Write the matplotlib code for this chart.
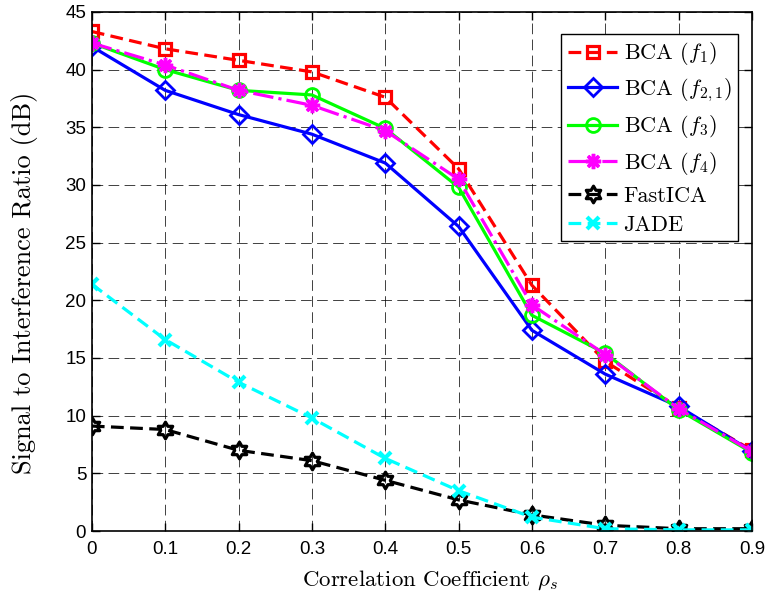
import numpy as np
import matplotlib
matplotlib.use("Agg")
import matplotlib.pyplot as plt
from matplotlib.path import Path

plt.rcParams['mathtext.fontset'] = 'cm'

rho = [0.0, 0.1, 0.2, 0.3, 0.4, 0.5, 0.6, 0.7, 0.8, 0.9]
bca_f1 = [43.3, 41.8, 40.8, 39.8, 37.6, 31.4, 21.3, 14.7, 10.7, 7.0]
bca_f21 = [42.0, 38.2, 36.1, 34.4, 31.9, 26.4, 17.4, 13.6, 10.8, 6.9]
bca_f3 = [42.3, 40.0, 38.2, 37.8, 34.9, 29.8, 18.7, 15.4, 10.5, 6.8]
bca_f4 = [42.3, 40.4, 38.2, 36.9, 34.7, 30.5, 19.6, 15.3, 10.6, 6.9]
fastica = [9.1, 8.8, 7.0, 6.1, 4.4, 2.7, 1.4, 0.5, 0.2, 0.2]
jade = [21.4, 16.6, 12.9, 9.8, 6.3, 3.5, 1.2, 0.2, 0.1, 0.1]

labels = [r'BCA ($f_1$)', r'BCA ($f_{2,1}$)', r'BCA ($f_3$)', r'BCA ($f_4$)',
          'FastICA', 'JADE']
xtick_labels = ['0', '0.1', '0.2', '0.3', '0.4', '0.5', '0.6', '0.7', '0.8', '0.9']

# hexagram outline marker (two overlapping triangles)
ang = np.deg2rad(90 + np.arange(12) * 30)
rad = np.where(np.arange(12) % 2 == 0, 1.0, 1.0 / np.sqrt(3))
pts = np.column_stack([rad * np.cos(ang), rad * np.sin(ang)])
pts = np.vstack([pts, pts[:1]])
hexagram = Path(pts, [Path.MOVETO] + [Path.LINETO] * 11 + [Path.CLOSEPOLY])

fig = plt.figure(figsize=(7.65, 5.94), dpi=100)
ax = fig.add_axes([0.120, 0.106, 0.863, 0.874])

lw = 2.3
ax.plot(rho, bca_f1, color='red', ls='--', lw=lw, marker='s', ms=9,
        mfc='none', mew=2.3, label=labels[0], dashes=(4, 2))
ax.plot(rho, bca_f21, color='blue', ls='-', lw=lw, marker='D', ms=9,
        mfc='none', mew=2.0, label=labels[1])
ax.plot(rho, bca_f3, color='#00ff00', ls='-', lw=lw, marker='o', ms=10,
        mfc='none', mew=2.0, label=labels[2])
ax.plot(rho, bca_f4, color='magenta', ls='-.', lw=lw, marker=(8, 2, 0), ms=11,
        mew=2.5, label=labels[3])
ax.plot(rho, fastica, color='black', ls='--', lw=lw, marker=hexagram, ms=12,
        mfc='none', mew=2.3, label=labels[4], dashes=(4, 2))
ax.plot(rho, jade, color='cyan', ls='--', lw=lw, marker='x', ms=8,
        mew=3.0, label=labels[5], dashes=(4, 2))

ax.set_xlim(0, 0.9)
ax.set_ylim(0, 45)
ax.set_xticks(rho)
ax.set_xticklabels(xtick_labels)
ax.set_yticks(np.arange(0, 46, 5))
ax.tick_params(direction='in', top=True, right=True, length=6, width=1,
               labelsize=13.5)
for lab in ax.get_xticklabels() + ax.get_yticklabels():
    lab.set_fontfamily('Liberation Sans')
ax.tick_params(axis='x', pad=7)
ax.tick_params(axis='y', pad=4)
ax.grid(True, color='black', ls=(0, (11, 5.5)), lw=0.7, alpha=0.75)
for s in ax.spines.values():
    s.set_linewidth(1.2)

ax.set_xlabel(r'Correlation Coefficient $\rho_s$', fontfamily='cmr10',
              fontsize=16.5)
ax.set_ylabel('Signal to Interference Ratio (dB)', fontfamily='cmr10',
              fontsize=19)
ax.xaxis.set_label_coords(0.512, -0.072)
ax.yaxis.set_label_coords(-0.082, 0.478)

leg = ax.legend(loc='upper right', bbox_to_anchor=(0.979, 0.958),
                prop={'family': 'cmr10', 'size': 16}, fancybox=False,
                edgecolor='black', framealpha=1, handlelength=2.2,
                borderpad=0.3, labelspacing=0.42, handletextpad=0.3,
                borderaxespad=0)
leg.get_frame().set_linewidth(1.0)

fig.savefig('out.png', dpi=100)
